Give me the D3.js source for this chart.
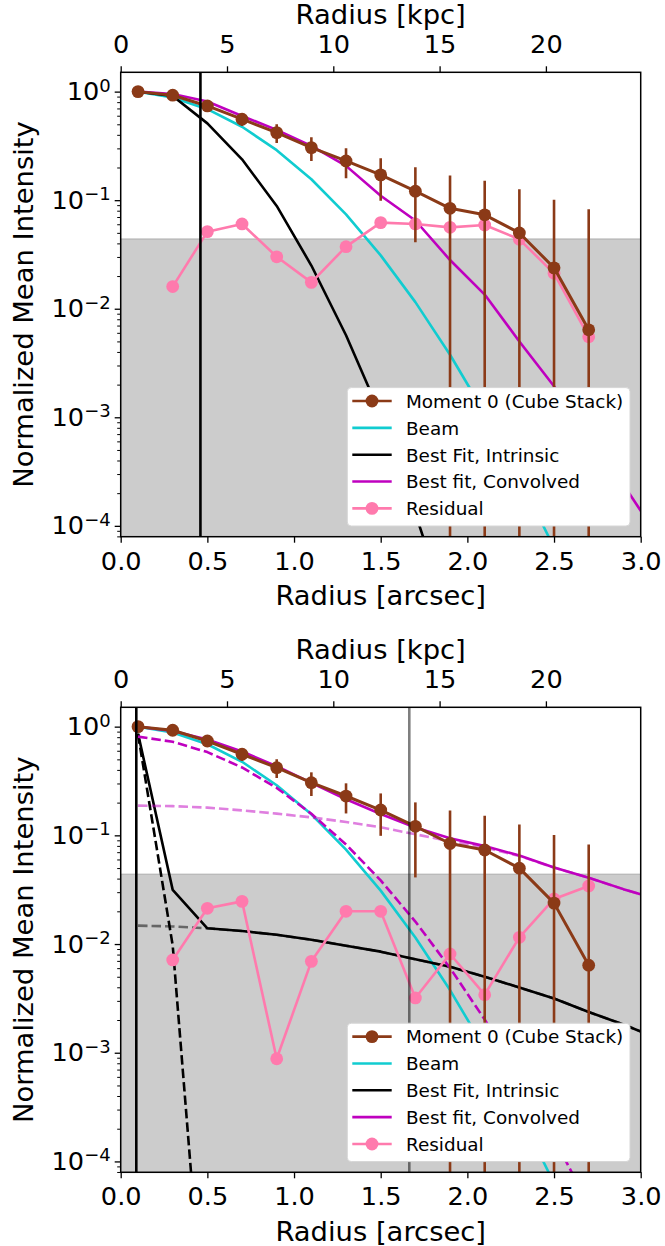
<!DOCTYPE html>
<html>
<head>
<meta charset="utf-8">
<script src="https://cdn.jsdelivr.net/npm/d3@7"></script>
<style>
  body { margin: 0; background: #fff; }
  text { font-family: "DejaVu Sans", sans-serif; fill: #000; }
</style>
</head>
<body>
<svg id="fig" width="665" height="1246"></svg>
<script>
// ---- radial sampling ----
const dataRadius = [0.1, 0.3, 0.5, 0.7, 0.9, 1.1, 1.3, 1.5, 1.7, 1.9, 2.1, 2.3, 2.5, 2.7];
const modelRadius = [0.1, 0.3, 0.5, 0.7, 0.9, 1.1, 1.3, 1.5, 1.7, 1.9, 2.1, 2.3, 2.5, 2.7, 2.9, 3.1];
const residualRadius = [0.3, 0.5, 0.7, 0.9, 1.1, 1.3, 1.5, 1.7, 1.9, 2.1, 2.3, 2.5, 2.7];

// ---- measured profile (moment 0 from the cube stack) ----
const momentValues = [1.0, 0.927, 0.738, 0.557, 0.419, 0.305, 0.230, 0.171, 0.121, 0.0841, 0.0733, 0.0499, 0.0238, 0.00639];
const momentErrors = [0.07, 0.07, 0.07, 0.075, 0.082, 0.075, 0.071, 0.072, 0.080, 0.085, 0.078, 0.076, 0.077, 0.076];

// ---- beam profile ----
const beamValues = [1.0, 0.883, 0.689, 0.475, 0.289, 0.156, 0.0740, 0.0310, 0.0115, 0.00377, 0.00109, 2.79e-4, 6.3e-5, 1.26e-5];

// noise floor (shaded band)
const noiseLevel = 0.044;

// ---- single-component fit (upper panel) ----
const diskIntrinsic = [1.0, 0.91, 0.51, 0.238, 0.0885, 0.025, 0.0057, 0.00105, 0.00013, 1.4e-5];
const diskConvolved = [1.0, 0.95, 0.81, 0.597, 0.444, 0.316, 0.207, 0.11, 0.065, 0.0281, 0.0135, 0.0050, 0.00193, 7.1e-4, 2.4e-4, 7.9e-5];
const diskResidual = [0.016, 0.0513, 0.0604, 0.0301, 0.0175, 0.0373, 0.0621, 0.0604, 0.0562, 0.059, 0.0436, 0.0212, 0.00552];
const diskMarkerRadius = 0.46;

// ---- two-component fit (lower panel) ----
const twoCompIntrinsic = [0.865, 0.0315, 0.01396, 0.01318, 0.01216, 0.01096, 0.00966, 0.00851, 0.00724, 0.00617, 0.00501, 0.00398, 0.00316, 0.00237, 0.00182, 0.00135];
const pointIntrinsic = [0.85, 0.0097, 1.1e-6];
const extendedIntrinsic = [0.01476, 0.01452, 0.01396, 0.01318, 0.01216, 0.01096, 0.00966, 0.00851, 0.00724, 0.00617, 0.00501, 0.00398, 0.00316, 0.00237, 0.00182, 0.00135];
const twoCompConvolved = [1.0, 0.912, 0.763, 0.591, 0.432, 0.304, 0.215, 0.157, 0.118, 0.094, 0.0796, 0.0652, 0.0507, 0.0407, 0.0320, 0.0257];
const pointConvolved = [0.809, 0.726, 0.583, 0.421, 0.273, 0.158, 0.0824, 0.0385, 0.0161, 0.00603, 0.00202, 6.08e-4, 1.64e-4, 3.96e-5];
const extendedConvolved = [0.1875, 0.1858, 0.1799, 0.1698, 0.1585, 0.1462, 0.1327, 0.1186, 0.1023, 0.0881, 0.0776, 0.0646, 0.0505, 0.0407, 0.0320, 0.0257];
const twoCompResidual = [0.00714, 0.0213, 0.0247, 8.8e-4, 0.00693, 0.0200, 0.0200, 0.00319, 0.0081, 0.00342, 0.01153, 0.026, 0.0342];
const pointMarkerRadius = 0.09;
const extendedMarkerRadius = 1.665;

// ---- axes ----
const xTicks = [0, 0.5, 1.0, 1.5, 2.0, 2.5, 3.0];
const kpcTicks = [0, 5, 10, 15, 20];
const yTickExponents = [0, -1, -2, -3, -4];
const kpcPerArcsec = 8.153;

const legendLabels = ["Moment 0 (Cube Stack)", "Beam", "Best Fit, Intrinsic", "Best fit, Convolved", "Residual"];

const colors = {
  moment: "#8b3a17",
  beam: "#11ccd0",
  intrinsic: "#000000",
  convolved: "#bf00bf",
  residual: "#ff7aad",
  band: "#808080"
};

const svg = d3.select("#fig");
const left = 120.7, right = 640.7;
const x = d3.scaleLinear().domain([0, 3]).range([left, right]);
const xKpc = d3.scaleLinear().domain([0, 3 * kpcPerArcsec]).range([left, right]);

const LW = 2.6;

function zip(xs, ys) { return ys.map((v, i) => [xs[i], v]); }

function drawPanel(idx, top, bottom, draw) {
  const y = d3.scaleLog().domain([Math.pow(10, -4.1), Math.pow(10, 0.178)]).range([bottom, top]);
  const g = svg.append("g");
  const clipId = "clip" + idx;
  g.append("clipPath").attr("id", clipId)
    .append("rect").attr("x", left).attr("y", top).attr("width", right - left).attr("height", bottom - top);
  const plot = g.append("g").attr("clip-path", `url(#${clipId})`);

  // noise band
  plot.append("rect")
    .attr("x", left).attr("width", right - left)
    .attr("y", y(noiseLevel)).attr("height", bottom - y(noiseLevel))
    .attr("fill", colors.band).attr("fill-opacity", 0.4)
    .attr("stroke", colors.band).attr("stroke-opacity", 0.4).attr("stroke-width", 1.2);

  const line = d3.line().x(d => x(d[0])).y(d => y(d[1]));
  const helpers = {
    path(pts, color, opts = {}) {
      plot.append("path").attr("d", line(pts))
        .attr("fill", "none").attr("stroke", color)
        .attr("stroke-width", opts.width || LW)
        .attr("stroke-opacity", opts.opacity == null ? 1 : opts.opacity)
        .attr("stroke-dasharray", opts.dash || null)
        .attr("stroke-linejoin", "round");
    },
    markers(pts, color) {
      plot.append("g").selectAll("circle").data(pts).join("circle")
        .attr("cx", d => x(d[0])).attr("cy", d => y(d[1])).attr("r", 6.4)
        .attr("fill", color);
    },
    errorbars(xs, vals, errs, color) {
      const lo = y.domain()[0];
      plot.append("g").selectAll("line").data(vals).join("line")
        .attr("x1", (d, i) => x(xs[i])).attr("x2", (d, i) => x(xs[i]))
        .attr("y1", (d, i) => y(d + errs[i]))
        .attr("y2", (d, i) => y(Math.max(d - errs[i], lo * 0.5)))
        .attr("stroke", color).attr("stroke-width", LW);
    },
    vline(r, color, opacity) {
      plot.append("line").attr("x1", x(r)).attr("x2", x(r)).attr("y1", top).attr("y2", bottom)
        .attr("stroke", color).attr("stroke-opacity", opacity).attr("stroke-width", LW);
    }
  };
  draw(helpers, y);

  // frame
  g.append("rect").attr("x", left).attr("y", top).attr("width", right - left).attr("height", bottom - top)
    .attr("fill", "none").attr("stroke", "#000").attr("stroke-width", 1.5);

  // bottom axis (arcsec)
  const ax = g.append("g").attr("transform", `translate(0,${bottom})`)
    .call(d3.axisBottom(x).tickValues(xTicks).tickFormat(d3.format(".1f")).tickSize(6).tickPadding(9));
  ax.select(".domain").remove();
  ax.selectAll(".tick line").attr("stroke-width", 1.3);
  ax.selectAll(".tick text").attr("font-size", 25.6).attr("font-family", "DejaVu Sans");

  // top axis (kpc)
  const axT = g.append("g").attr("transform", `translate(0,${top})`)
    .call(d3.axisTop(xKpc).tickValues(kpcTicks).tickFormat(d3.format("d")).tickSize(6).tickPadding(13));
  axT.select(".domain").remove();
  axT.selectAll(".tick line").attr("stroke-width", 1.3);
  axT.selectAll(".tick text").attr("font-size", 25.6).attr("font-family", "DejaVu Sans");

  // left axis (log), major + minor ticks
  const minor = [];
  for (let e = -5; e <= 0; e++) for (let m = 2; m <= 9; m++) {
    const v = m * Math.pow(10, e);
    if (v >= y.domain()[0] && v <= y.domain()[1]) minor.push(v);
  }
  const ayMinor = g.append("g").attr("transform", `translate(${left},0)`)
    .call(d3.axisLeft(y).tickValues(minor).tickFormat(() => "").tickSize(3.5));
  ayMinor.select(".domain").remove();
  ayMinor.selectAll(".tick line").attr("stroke-width", 1);
  const majors = yTickExponents.map(e => Math.pow(10, e));
  const ay = g.append("g").attr("transform", `translate(${left},0)`)
    .call(d3.axisLeft(y).tickValues(majors).tickFormat(() => "").tickSize(6));
  ay.select(".domain").remove();
  ay.selectAll(".tick line").attr("stroke-width", 1.3);
  yTickExponents.forEach(e => {
    const t = g.append("text").attr("x", left - 10).attr("y", y(Math.pow(10, e)) + 8.6)
      .attr("text-anchor", "end").attr("font-size", 25.6);
    t.append("tspan").text("10");
    t.append("tspan").attr("dy", -8.6).attr("font-size", 18).text(e === 0 ? "0" : "\u2212" + (-e));
  });

  // axis titles
  g.append("text").attr("x", (left + right) / 2).attr("y", bottom + 68.5)
    .attr("text-anchor", "middle").attr("font-size", 27.4).text("Radius [arcsec]");
  g.append("text").attr("x", (left + right) / 2).attr("y", top - 48.3)
    .attr("text-anchor", "middle").attr("font-size", 27.4).text("Radius [kpc]");
  g.append("text").attr("transform", `translate(33.3,${(top + bottom) / 2}) rotate(-90)`)
    .attr("text-anchor", "middle").attr("font-size", 27.4).text("Normalized Mean Intensity");

  // legend
  const lx = 347.3, lw = 282.7, lh = 138.4;
  const ly = bottom - 10.7 - lh;
  const lg = g.append("g");
  lg.append("rect").attr("x", lx).attr("y", ly).attr("width", lw).attr("height", lh)
    .attr("rx", 4).attr("fill", "#fff").attr("stroke", "#d6d6d6").attr("stroke-width", 1);
  const entries = [
    { color: colors.moment, marker: true },
    { color: colors.beam, marker: false },
    { color: colors.intrinsic, marker: false },
    { color: colors.convolved, marker: false },
    { color: colors.residual, marker: true }
  ];
  entries.forEach((en, i) => {
    const cy = ly + 13.4 + i * 26.85;
    lg.append("line").attr("x1", 352.3).attr("x2", 391.7).attr("y1", cy).attr("y2", cy)
      .attr("stroke", en.color).attr("stroke-width", LW);
    if (en.marker) lg.append("circle").attr("cx", 372).attr("cy", cy).attr("r", 6.4).attr("fill", en.color);
    lg.append("text").attr("x", 406).attr("y", cy + 6.8).attr("font-size", 18.4).text(legendLabels[i]);
  });
}

// upper panel: single-component fit
drawPanel(0, 72.3, 536.7, (h) => {
  h.path(zip(dataRadius, beamValues), colors.beam);
  h.path(zip(modelRadius, diskIntrinsic), colors.intrinsic);
  h.path(zip(modelRadius, diskConvolved), colors.convolved);
  h.path(zip(residualRadius, diskResidual), colors.residual);
  h.markers(zip(residualRadius, diskResidual), colors.residual);
  h.errorbars(dataRadius, momentValues, momentErrors, colors.moment);
  h.path(zip(dataRadius, momentValues), colors.moment, { width: 3 });
  h.markers(zip(dataRadius, momentValues), colors.moment);
  h.vline(diskMarkerRadius, "#000", 1);
});

// lower panel: point source + extended component
drawPanel(1, 707.3, 1172.3, (h) => {
  h.path(zip(dataRadius, beamValues), colors.beam);
  h.path(zip(modelRadius, extendedIntrinsic), "#000", { dash: "9.5,4", opacity: 0.5 });
  h.path(zip(modelRadius, pointIntrinsic), "#000", { dash: "9.5,4" });
  h.path(zip(modelRadius, twoCompIntrinsic), colors.intrinsic);
  h.path(zip(modelRadius, extendedConvolved), colors.convolved, { dash: "9.5,4", opacity: 0.5 });
  h.path(zip(modelRadius, pointConvolved), colors.convolved, { dash: "9.5,4" });
  h.path(zip(modelRadius, twoCompConvolved), colors.convolved);
  h.path(zip(residualRadius, twoCompResidual), colors.residual);
  h.markers(zip(residualRadius, twoCompResidual), colors.residual);
  h.errorbars(dataRadius, momentValues, momentErrors, colors.moment);
  h.path(zip(dataRadius, momentValues), colors.moment, { width: 3 });
  h.markers(zip(dataRadius, momentValues), colors.moment);
  h.vline(pointMarkerRadius, "#000", 1);
  h.vline(extendedMarkerRadius, "#000", 0.5);
});
</script>
</body>
</html>
